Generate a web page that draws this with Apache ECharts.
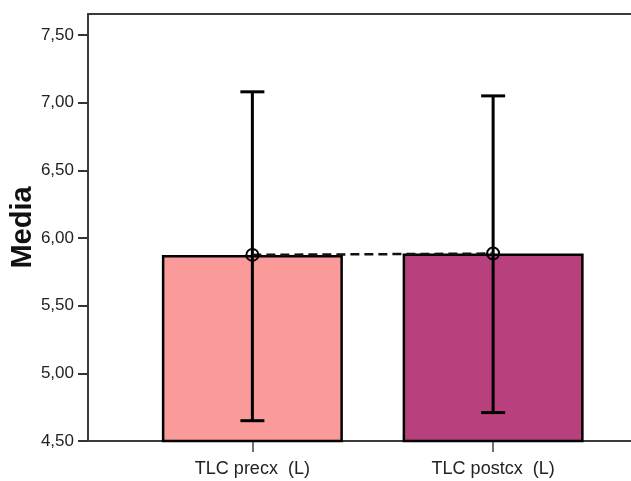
<!DOCTYPE html>
<html>
<head>
<meta charset="utf-8">
<script src="https://cdn.jsdelivr.net/npm/echarts@6/dist/echarts.min.js"></script>
<style>html,body{margin:0;padding:0;background:#fff}#c{width:631px;height:481px}</style>
</head>
<body>
<div id="c"></div>
<script>
var categories = ['TLC precx  (L)', 'TLC postcx  (L)'];
var means = [5.875, 5.885];
var ciLow = [4.65, 4.71];
var ciHigh = [7.08, 7.05];
var barColors = ['#FA9B9A', '#B7407D'];
var yTicks = [4.5, 5.0, 5.5, 6.0, 6.5, 7.0, 7.5];
var yMin = 4.5, yMax = 7.655;

var chart = echarts.init(document.getElementById('c'), null, {renderer: 'canvas'});
var font = 'Liberation Sans, Arial, sans-serif';
var frameLine = {show: true, lineStyle: {color: '#3a3a3a', width: 2}};
chart.setOption({
  animation: false,
  grid: [
    {left: 88, top: 14, right: 0, bottom: 40, containLabel: false, outerBoundsMode: 'none'},
    {left: 132, top: 14, right: 17.5, bottom: 40, containLabel: false, outerBoundsMode: 'none'}
  ],
  xAxis: [
    {gridIndex: 0, type: 'value', min: 0, max: 1, position: 'bottom',
     axisLine: frameLine, axisTick: {show: false}, axisLabel: {show: false}, splitLine: {show: false}},
    {gridIndex: 0, type: 'value', min: 0, max: 1, position: 'top',
     axisLine: frameLine, axisTick: {show: false}, axisLabel: {show: false}, splitLine: {show: false}},
    {gridIndex: 1, type: 'category', data: categories, boundaryGap: true,
     axisLine: {show: false},
     axisTick: {show: true, alignWithLabel: true, length: 11, lineStyle: {color: '#444', width: 1.5}},
     axisLabel: {fontFamily: font, fontSize: 18, color: '#222', margin: 19}}
  ],
  yAxis: [
    {gridIndex: 0, type: 'value', min: yMin, max: yMax, interval: 0.5,
     name: 'Media', nameLocation: 'middle', nameGap: 51, nameMoveOverlap: false,
     nameTextStyle: {fontFamily: font, fontSize: 29, fontWeight: 'bold', color: '#111'},
     splitLine: {show: false},
     axisLine: frameLine,
     axisTick: {show: true, length: 10, customValues: yTicks, lineStyle: {color: '#333', width: 2}},
     axisLabel: {customValues: yTicks, fontFamily: font, fontSize: 17, color: '#222', margin: 14,
       formatter: function (v) { return v.toFixed(2).replace('.', ','); }}},
    {gridIndex: 1, type: 'value', min: yMin, max: yMax, show: false}
  ],
  series: [
    {type: 'bar', xAxisIndex: 2, yAxisIndex: 1, barWidth: 181,
     data: means.map(function (m, i) {
       return {value: m, itemStyle: {color: barColors[i], borderColor: '#000', borderWidth: 2.5}};
     }), z: 2},
    {type: 'custom', xAxisIndex: 2, yAxisIndex: 1, z: 5,
     data: categories.map(function (c, i) { return [i, ciLow[i], ciHigh[i]]; }),
     renderItem: function (params, api) {
       var x = api.value(0);
       var lo = api.coord([x, api.value(1)]);
       var hi = api.coord([x, api.value(2)]);
       var hw = 12;
       var st = {stroke: '#000', lineWidth: 3};
       return {type: 'group', children: [
         {type: 'line', shape: {x1: lo[0], y1: lo[1], x2: hi[0], y2: hi[1]}, style: st},
         {type: 'line', shape: {x1: lo[0] - hw, y1: lo[1], x2: lo[0] + hw, y2: lo[1]}, style: st},
         {type: 'line', shape: {x1: hi[0] - hw, y1: hi[1], x2: hi[0] + hw, y2: hi[1]}, style: st}
       ]};
     }},
    {type: 'line', xAxisIndex: 2, yAxisIndex: 1, z: 6, data: means,
     symbol: 'circle', symbolSize: 12,
     itemStyle: {color: 'rgba(0,0,0,0)', borderColor: '#000', borderWidth: 2},
     lineStyle: {color: '#111', width: 2.5, type: [9, 5]}}
  ]
});
</script>
</body>
</html>
